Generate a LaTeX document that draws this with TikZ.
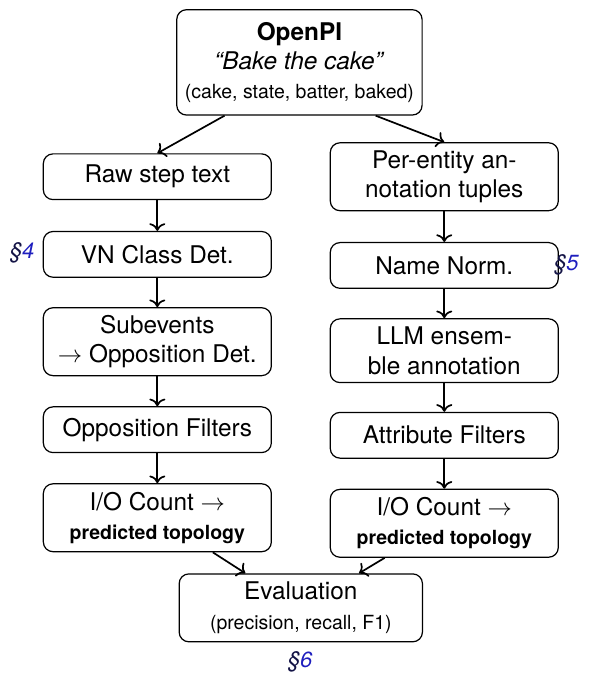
\documentclass[tikz,border=0pt]{standalone}
\usepackage{fontspec}
\setmainfont{TeX Gyre Heros}
\usepackage{xcolor}
\usepackage{tikz}
\usetikzlibrary{arrows.meta, positioning, calc}
\definecolor{refnavy}{RGB}{20, 20, 70}
\definecolor{refblue}{RGB}{30, 30, 190}

\newcommand{\secref}[1]{{\small\itshape\textcolor{refnavy}{\S}\textcolor{refblue}{#1}}}

\begin{document}
\begin{tikzpicture}[
    stage/.style={draw, rounded corners, line width=0.5pt, minimum width=3.29cm,
                  minimum height=0.66cm, align=center, inner sep=2pt},
    stagetwo/.style={stage, minimum height=0.98cm},
    flow/.style={->, line width=0.7pt}
]
    \useasboundingbox (0,0) rectangle (8.60,-9.71);

    % source
    \node[stage, minimum width=3.54cm, minimum height=1.52cm] (openpi) at (4.32,-0.90)
        {\textbf{OpenPI}\\ \textit{``Bake the cake''}\\ {\footnotesize (cake, state, batter, baked)}};

    % left column
    \node[stage] (raw) at (2.27,-2.55) {Raw step text};
    \node[stage] (vnclass) at (2.27,-3.67) {VN Class Det.};
    \node[stagetwo] (subev) at (2.27,-4.93) {Subevents\\ $\rightarrow$ Opposition Det.};
    \node[stage] (oppfilt) at (2.27,-6.20) {Opposition Filters};
    \node[stagetwo] (iol) at (2.27,-7.47) {I/O Count $\rightarrow$\\ {\footnotesize\bfseries predicted topology}};

    % right column
    \node[stagetwo] (entity) at (6.41,-2.55) {Per-entity an-\\ notation tuples};
    \node[stage] (namenorm) at (6.41,-3.83) {Name Norm.};
    \node[stagetwo, minimum height=0.92cm] (llm) at (6.41,-5.06) {LLM ensem-\\ ble annotation};
    \node[stage] (attrfilt) at (6.41,-6.28) {Attribute Filters};
    \node[stagetwo] (ior) at (6.41,-7.55) {I/O Count $\rightarrow$\\ {\footnotesize\bfseries predicted topology}};

    % evaluation
    \node[stagetwo, minimum width=3.51cm] (eval) at (4.34,-8.77)
        {Evaluation\\ {\footnotesize (precision, recall, F1)}};

    % section refs
    \node (sec4) at (0.32,-3.65) {\secref{4}};
    \node (sec5) at (8.17,-3.82) {\secref{5}};
    \node (sec6) at (4.33,-9.55) {\secref{6}};

    % arrows
    \draw[flow] ([xshift=-1.08cm]openpi.south) -- (raw.north);
    \draw[flow] ([xshift=1.1cm]openpi.south) -- (entity.north);
    \draw[flow] (raw) -- (vnclass);
    \draw[flow] (vnclass) -- (subev);
    \draw[flow] (subev) -- (oppfilt);
    \draw[flow] (oppfilt) -- (iol);
    \draw[flow] (entity) -- (namenorm);
    \draw[flow] (namenorm) -- (llm);
    \draw[flow] (llm) -- (attrfilt);
    \draw[flow] (attrfilt) -- (ior);
    \draw[flow] ([xshift=0.8cm]iol.south) -- ([xshift=-0.8cm]eval.north);
    \draw[flow] ([xshift=-0.86cm]ior.south) -- ([xshift=0.84cm]eval.north);
\end{tikzpicture}
\end{document}
